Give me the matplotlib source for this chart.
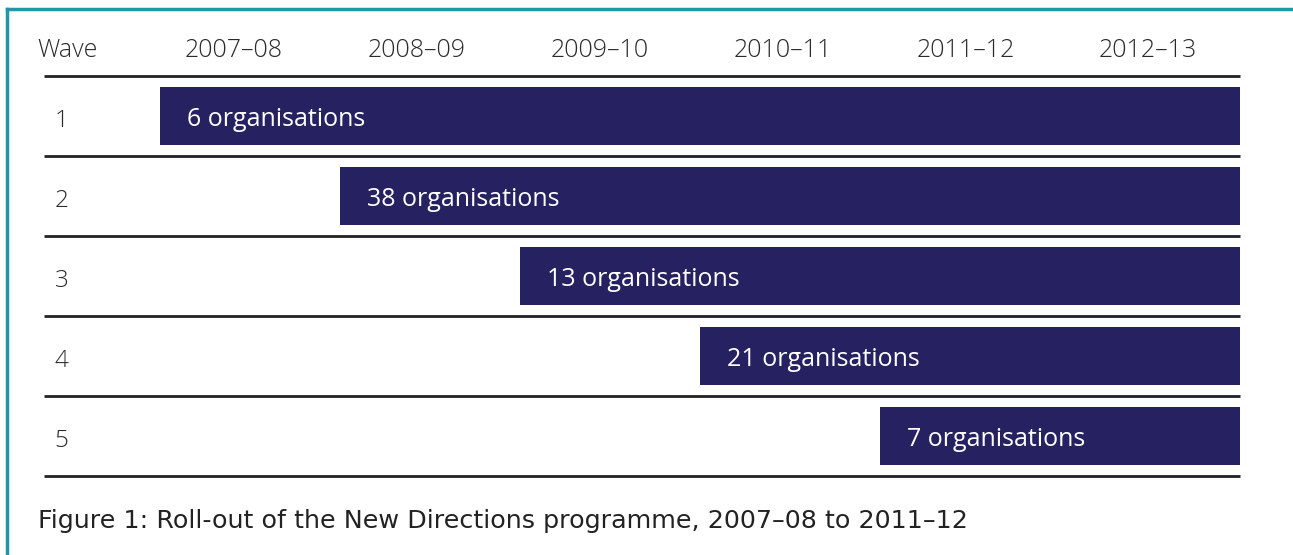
import matplotlib
matplotlib.use("Agg")
import matplotlib.pyplot as plt
from matplotlib.lines import Line2D

# данные
waves = ["1", "2", "3", "4", "5"]
years = ["2007–08", "2008–09", "2009–10", "2010–11", "2011–12", "2012–13"]
start_year = [0, 1, 2, 3, 4]      # индекс года начала волны
end_year = [6, 6, 6, 6, 6]        # до конца 2012–13
organisations = [6, 38, 13, 21, 7]
caption = "Figure 1: Roll-out of the New Directions programme, 2007–08 to 2011–12"

W, H = 1293, 555
bar_color = "#262262"
line_color = "#222222"
teal = "#2196a5"

fig = plt.figure(figsize=(W / 100, H / 100), dpi=100)
ax = fig.add_axes([160 / W, 1 - 476 / H, 1080 / W, 400 / H])
ax.set_xlim(0, 6)
ax.set_ylim(5, 0)
ax.axis("off")

for i in range(len(waves)):
    ax.barh(i + 0.5, end_year[i] - start_year[i], left=start_year[i], height=0.725,
            color=bar_color, edgecolor="none")
    ax.text(start_year[i] + 0.148, i + 0.54, "%d organisations" % organisations[i],
            color="white", fontsize=18, family="Open Sans", va="center", ha="left")
    ax.text(-0.585, i + 0.56, waves[i], color="#2a2a2a", fontsize=17.5,
            family="Open Sans", fontweight="light", va="center", ha="left", clip_on=False)

# горизонтальные линии
for k in range(len(waves) + 1):
    ax.plot([-0.645, 6], [k, k], color=line_color, lw=2, clip_on=False, solid_capstyle="butt")

# заголовки столбцов
ax.text(-0.683, -0.32, "Wave", color="#2a2a2a", fontsize=18, family="Open Sans",
        fontweight="light", va="center", ha="left", clip_on=False)
for j, y in enumerate(years):
    ax.text(j + 0.41 + 0.016 * j, -0.32, y, color="#2a2a2a", fontsize=18,
            family="Open Sans", fontweight="light", va="center", ha="center", clip_on=False)

# подпись
fig.text(38 / W, 1 - 521 / H, caption, color="#222222", fontsize=18.3, family="DejaVu Sans",
         va="center", ha="left")

# рамка
fig.add_artist(Line2D([6.5 / W, 1], [1 - 8.5 / H, 1 - 8.5 / H], color=teal, lw=2.5))
fig.add_artist(Line2D([7 / W, 7 / W], [0, 1 - 8.5 / H], color=teal, lw=2.5))

fig.savefig("out.png", dpi=100)
